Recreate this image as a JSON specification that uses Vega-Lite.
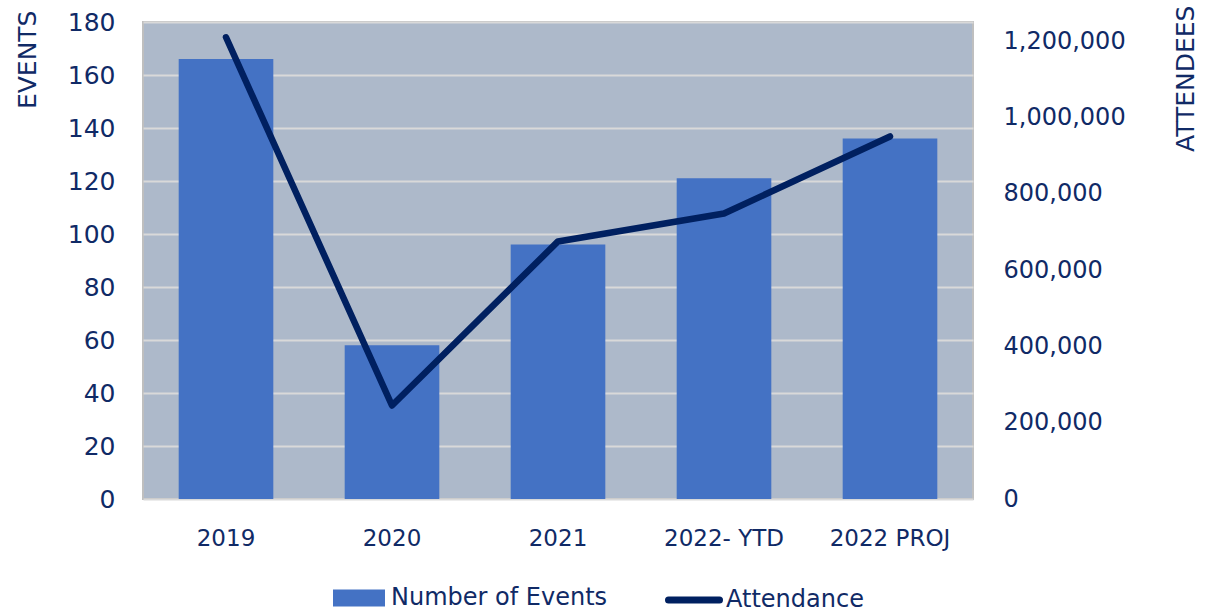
{
  "$schema": "https://vega.github.io/schema/vega-lite/v6.json",
  "width": 830,
  "height": 477,
  "autosize": {"type": "none"},
  "padding": {"left": 143, "top": 22, "right": 242, "bottom": 113},
  "background": "white",
  "config": {
    "font": "DejaVu Sans",
    "view": {"fill": "#adb9ca", "stroke": "#bfbfbf", "strokeWidth": 2},
    "axis": {"labelColor": "#102a66", "titleColor": "#102a66", "labelFont": "DejaVu Sans", "titleFont": "DejaVu Sans", "titleFontWeight": "normal"},
    "legend": {"labelColor": "#102a66", "labelFont": "DejaVu Sans", "padding": 0, "labelLimit": 400}
  },
  "data": {
    "values": [
      {"year": "2019", "events": 166, "attendance": 1210000},
      {"year": "2020", "events": 58, "attendance": 245000},
      {"year": "2021", "events": 96, "attendance": 675000},
      {"year": "2022- YTD", "events": 121, "attendance": 748000},
      {"year": "2022 PROJ", "events": 136, "attendance": 950000}
    ]
  },
  "encoding": {
    "x": {
      "field": "year",
      "type": "nominal",
      "sort": null,
      "scale": {"paddingInner": 0.43, "paddingOuter": 0.215},
      "axis": {"title": null, "labelAngle": 0, "ticks": false, "domain": false, "grid": false, "labelPadding": 28, "labelFontSize": 23}
    }
  },
  "layer": [
    {
      "mark": {"type": "bar", "color": "#4472c4"},
      "encoding": {
        "y": {
          "field": "events",
          "type": "quantitative",
          "scale": {"domain": [0, 180], "nice": false},
          "axis": {
            "title": "EVENTS",
            "values": [0, 20, 40, 60, 80, 100, 120, 140, 160, 180],
            "ticks": false,
            "domain": false,
            "grid": true,
            "gridColor": "#d9d9d9",
            "gridWidth": 2,
            "labelFontSize": 25,
            "labelPadding": 28,
            "titleFontSize": 25,
            "titleAngle": -90,
            "titleAlign": "right",
            "titleBaseline": "middle",
            "titleX": -116,
            "titleY": -12
          }
        },
        "fill": {
          "datum": "Number of Events",
          "scale": {"range": ["#4472c4"]},
          "legend": {
            "title": null,
            "orient": "none",
            "legendX": 190,
            "legendY": 550,
            "direction": "horizontal",
            "symbolType": "M-1,-0.33H1V0.33H-1Z",
            "symbolSize": 2704,
            "symbolStrokeWidth": 0,
            "labelFontSize": 24,
            "labelOffset": 6
          }
        }
      }
    },
    {
      "mark": {"type": "line", "strokeWidth": 6.5, "strokeCap": "round", "strokeJoin": "round"},
      "encoding": {
        "y": {
          "field": "attendance",
          "type": "quantitative",
          "scale": {"domain": [0, 1250000], "nice": false},
          "axis": {
            "orient": "right",
            "title": "ATTENDEES",
            "format": ",.0f",
            "values": [0, 200000, 400000, 600000, 800000, 1000000, 1200000],
            "ticks": false,
            "domain": false,
            "grid": false,
            "labelFontSize": 24,
            "labelPadding": 30,
            "titleFontSize": 25,
            "titleAngle": -90,
            "titleAlign": "right",
            "titleBaseline": "middle",
            "titleX": 212,
            "titleY": -17
          }
        },
        "stroke": {
          "datum": "Attendance",
          "scale": {"range": ["#002060"]},
          "legend": {
            "title": null,
            "orient": "none",
            "legendX": 522,
            "legendY": 549,
            "direction": "horizontal",
            "symbolType": "stroke",
            "symbolSize": 2601,
            "symbolStrokeWidth": 7,
            "labelFontSize": 24,
            "labelOffset": 3,
            "encode": {"symbols": {"update": {"strokeCap": {"value": "round"}}}}
          }
        }
      }
    }
  ],
  "resolve": {"scale": {"y": "independent"}}
}
